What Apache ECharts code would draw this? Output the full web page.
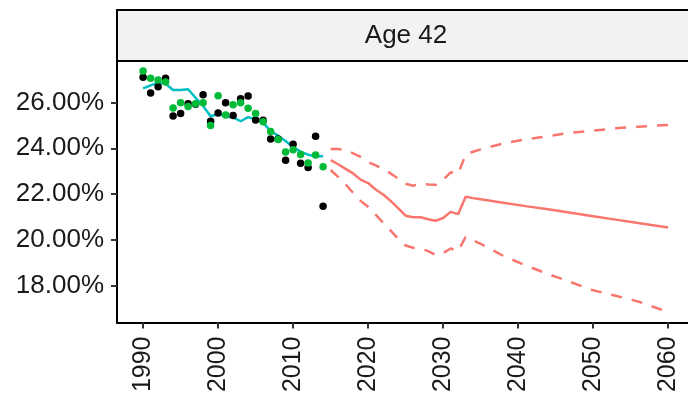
<!DOCTYPE html>
<html>
<head>
<meta charset="utf-8">
<script src="https://cdn.jsdelivr.net/npm/echarts@6/dist/echarts.min.js"></script>
<style>
  html, body { margin: 0; padding: 0; background: #ffffff; }
  #chart { width: 688px; height: 400px; }
</style>
</head>
<body>
<div id="chart"></div>
<script>
// Observed years
const histYears = [1990,1991,1992,1993,1994,1995,1996,1997,1998,1999,2000,2001,2002,
  2003,2004,2005,2006,2007,2008,2009,2010,2011,2012,2013,2014];
// Observed rate (black points), percent
const observedA = [27.10,26.42,26.69,27.06,25.41,25.52,25.95,25.92,26.34,25.18,25.54,25.99,25.43,
  26.16,26.28,25.23,25.22,24.40,24.40,23.48,24.18,23.34,23.16,24.53,21.47];
// Second observed rate (green points), percent
const observedB = [27.38,27.06,26.98,26.90,25.76,25.99,25.83,25.95,25.99,24.99,26.29,25.45,25.90,
  25.99,25.75,25.52,25.16,24.73,24.38,23.84,23.93,23.73,23.36,23.70,23.19];
// Fitted rate over the observed period, percent
const fitted = [26.62,26.75,26.87,26.82,26.55,26.55,26.58,26.20,25.85,25.40,25.50,25.38,25.35,
  25.18,25.36,25.26,25.12,24.75,24.55,24.32,24.05,23.85,23.72,23.65,23.65];

// Projection years
const projYears = [2015,2016,2017,2018,2019,2020,2021,2022,2023,2024,2025,2026,2027,2028,2029,
  2030,2031,2032,2033,2034,2035,2038,2041,2044,2047,2050,2053,2056,2060];
// Projected central rate, percent
const projMid = [23.48,23.30,23.10,22.90,22.63,22.48,22.20,21.98,21.70,21.38,21.05,20.98,20.98,20.90,20.83,
  20.95,21.22,21.12,21.88,21.82,21.77,21.62,21.47,21.33,21.18,21.03,20.88,20.73,20.54];
// Projected upper bound, percent
const projHigh = [23.97,23.97,23.92,23.78,23.62,23.40,23.25,23.10,22.90,22.68,22.45,22.36,22.46,22.42,22.40,
  22.62,22.95,22.88,23.72,23.85,23.95,24.21,24.39,24.53,24.68,24.77,24.87,24.94,25.02];
// Projected lower bound, percent
const projLow = [23.05,22.75,22.42,22.05,21.70,21.44,21.10,20.75,20.40,20.05,19.75,19.65,19.62,19.50,19.33,
  19.42,19.62,19.50,20.12,19.98,19.82,19.30,18.88,18.50,18.15,17.79,17.55,17.30,16.84];

// Axis tick positions
const xTicks = [1990,2000,2010,2020,2030,2040,2050,2060];
const yTicks = [18,20,22,24,26];
const panelTitle = 'Age 42';

const pairs = (xs, ys) => xs.map((x, i) => [x, ys[i]]);

const RED = '#F8766D', CYAN = '#00BFC4', GREEN = '#00BA38';
const FONT = 'Liberation Sans, Arial, sans-serif';
const TEXT = '#1a1a1a';

const chart = echarts.init(document.getElementById('chart'), null, { renderer: 'canvas' });

chart.setOption({
  animation: false,
  backgroundColor: '#ffffff',
  grid: { left: 117, right: 0, top: 61, bottom: 77.5, containLabel: false },
  xAxis: {
    type: 'value',
    min: 1986.52,
    max: 2062.65,
    splitLine: { show: false },
    axisLine: { show: true, onZero: false, lineStyle: { color: '#000', width: 2 } },
    axisTick: { show: true, customValues: xTicks, length: 6, lineStyle: { color: '#333', width: 2 } },
    axisLabel: {
      customValues: xTicks, rotate: 90, margin: 14,
      fontFamily: FONT, fontSize: 25, color: TEXT,
      formatter: v => String(v)
    }
  },
  yAxis: {
    type: 'value',
    min: 16.383,
    max: 27.814,
    splitLine: { show: false },
    axisLine: { show: true, onZero: false, lineStyle: { color: '#000', width: 2 } },
    axisTick: { show: true, customValues: yTicks, length: 6, lineStyle: { color: '#333', width: 2 } },
    axisLabel: {
      customValues: yTicks, margin: 13,
      fontFamily: FONT, fontSize: 26, color: TEXT,
      formatter: v => v.toFixed(2) + '%'
    }
  },
  graphic: [
    {
      type: 'rect', z: 10,
      shape: { x: 117, y: 10, width: 600, height: 51 },
      style: { fill: '#F2F2F2', stroke: '#000', lineWidth: 2 }
    },
    {
      type: 'text', z: 11,
      x: 406, y: 35.5,
      style: {
        text: panelTitle, fill: TEXT, font: '26px ' + FONT,
        textAlign: 'center', textVerticalAlign: 'middle'
      }
    }
  ],
  series: [
    {
      type: 'line', data: pairs(histYears, fitted), showSymbol: false,
      lineStyle: { color: CYAN, width: 2.5 }, z: 2
    },
    {
      type: 'line', data: pairs(projYears, projMid), showSymbol: false,
      lineStyle: { color: RED, width: 2.5 }, z: 2
    },
    {
      type: 'line', data: pairs(projYears, projHigh), showSymbol: false,
      lineStyle: { color: RED, width: 2.5, type: [11, 10] }, z: 2
    },
    {
      type: 'line', data: pairs(projYears, projLow), showSymbol: false,
      lineStyle: { color: RED, width: 2.5, type: [11, 10] }, z: 2
    },
    {
      type: 'scatter', data: pairs(histYears, observedA), symbolSize: 7.5,
      itemStyle: { color: '#000', opacity: 1 }, z: 3
    },
    {
      type: 'scatter', data: pairs(histYears, observedB), symbolSize: 7.5,
      itemStyle: { color: GREEN, opacity: 1 }, z: 4
    }
  ]
});
</script>
</body>
</html>
